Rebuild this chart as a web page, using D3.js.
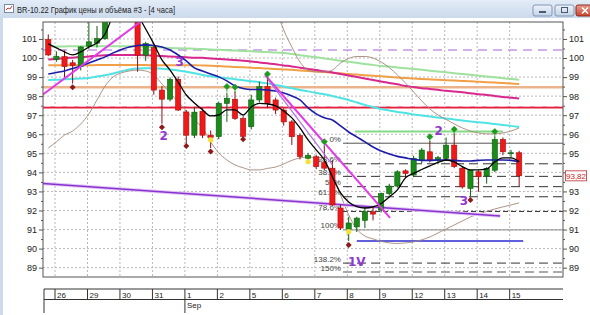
<!DOCTYPE html>
<html><head><meta charset="utf-8">
<script src="https://cdn.jsdelivr.net/npm/d3@7"></script>
<style>
html,body{margin:0;padding:0;background:#fff;}
svg{display:block;font-family:"Liberation Sans","Noto Sans",sans-serif;}
</style></head><body>
<svg id="chart" width="590" height="315"></svg>
<script>
// candles, 4-hour bars, index 0 = last bar of 25 Aug
const opens  = [100.97,99.92,100.07,99.75,99.55,100.62,100.78,101.02,102.10,102.50,102.20,101.95,100.15,100.55,98.32,97.84,98.88,97.17,95.95,97.21,95.95,95.88,97.62,97.84,96.83,96.40,97.80,98.50,97.80,97.27,96.65,95.94,94.74,94.82,94.52,94.22,92.13,91.02,91.14,91.48,91.93,92.02,92.89,93.28,94.08,93.86,94.64,95.08,94.62,94.73,95.43,94.22,93.16,94.03,93.81,94.11,95.73,94.98,95.03];
const highs  = [101.24,100.35,100.40,99.90,100.62,101.90,101.68,102.30,102.70,102.80,102.40,102.10,100.85,100.70,98.53,98.98,99.03,97.27,97.42,97.36,96.20,97.72,98.16,98.24,96.95,98.07,98.76,98.93,97.92,97.36,96.75,96.04,95.02,94.92,95.40,94.64,92.29,91.67,91.67,92.18,92.18,92.94,93.40,94.11,94.16,94.87,95.28,95.65,94.87,95.83,96.05,94.32,94.11,94.11,94.27,95.88,95.83,95.18,95.13];
const lows   = [100.10,99.80,98.99,98.66,99.35,100.48,100.55,100.95,101.95,101.95,101.92,99.28,99.85,98.08,96.55,97.72,97.22,95.50,95.80,95.80,95.28,95.74,96.65,96.75,95.76,96.25,97.67,97.37,97.06,96.45,95.44,94.68,94.67,94.17,94.12,92.24,90.98,90.40,90.87,91.08,91.48,91.89,92.79,93.20,93.71,93.75,94.47,94.52,94.42,94.62,94.22,93.15,92.76,92.98,93.41,94.01,94.90,94.78,93.25];
const closes = [100.16,100.08,99.55,99.60,100.58,100.85,101.02,102.10,102.50,102.20,102.05,100.15,100.76,98.32,97.84,98.88,97.27,95.95,97.16,95.95,95.84,97.62,97.89,96.83,95.89,97.80,98.50,97.62,97.27,96.65,95.87,94.83,94.90,94.30,94.22,92.29,91.08,91.34,91.60,91.93,91.81,92.89,93.28,94.03,93.94,94.74,95.17,94.64,94.77,95.43,94.30,93.24,94.11,93.77,94.21,95.73,95.08,95.03,93.82];

// indicator lines, one value per bar (null = off the chart)
const maBlack = [100.74,100.53,100.32,100.16,100.32,100.58,100.79,101.26,102.26,102.78,102.78,102.26,101.52,100.74,99.90,99.37,98.74,98.06,97.64,97.28,96.96,97.01,97.28,97.28,97.01,97.43,97.62,97.59,97.49,97.22,96.86,96.33,95.70,95.18,94.65,93.76,92.92,92.45,92.20,92.13,92.19,92.37,92.71,93.08,93.71,93.95,94.15,94.34,94.52,94.65,94.55,94.30,94.13,94.13,94.18,94.55,94.76,94.76,94.56];
const maBlue = [99.16,99.24,99.32,99.45,99.58,99.74,99.90,100.06,100.27,100.45,100.58,100.66,100.69,100.66,100.58,100.42,100.16,99.85,99.48,99.32,99.16,99.01,98.80,98.53,98.40,98.35,98.35,98.32,98.27,98.17,98.01,97.80,97.38,97.07,96.86,96.75,96.44,96.12,95.86,95.60,95.33,95.12,94.97,94.84,94.76,94.68,94.63,94.63,94.65,94.65,94.63,94.60,94.60,94.63,94.65,94.65,94.65,94.63,94.56];
const maCyan = [98.85,98.86,98.88,98.90,98.92,98.95,99.03,99.10,99.19,99.30,99.40,99.45,99.46,99.46,99.44,99.40,99.35,99.28,99.20,99.11,99.04,98.99,98.94,98.89,98.83,98.78,98.73,98.67,98.59,98.51,98.41,98.32,98.25,98.17,98.10,98.01,97.90,97.80,97.67,97.54,97.43,97.33,97.25,97.17,97.12,97.04,96.99,96.93,96.88,96.83,96.78,96.72,96.67,96.63,96.59,96.54,96.49,96.44,96.38];
const maGreen = [100.60,100.61,100.61,100.62,100.62,100.62,100.62,100.62,100.62,100.62,100.62,100.61,100.60,100.57,100.55,100.52,100.51,100.50,100.49,100.47,100.45,100.43,100.41,100.39,100.37,100.35,100.33,100.31,100.29,100.26,100.21,100.15,100.09,100.04,99.98,99.92,99.86,99.81,99.75,99.69,99.64,99.58,99.55,99.50,99.46,99.42,99.38,99.33,99.29,99.25,99.20,99.16,99.12,99.07,99.03,98.99,98.94,98.90,98.86];
const maOrange = [99.62,99.62,99.62,99.62,99.62,99.62,99.63,99.63,99.63,99.63,99.63,99.63,99.63,99.62,99.62,99.62,99.62,99.62,99.62,99.61,99.60,99.58,99.56,99.53,99.51,99.49,99.47,99.45,99.42,99.40,99.38,99.35,99.32,99.29,99.26,99.23,99.20,99.16,99.13,99.10,99.07,99.04,99.01,98.98,98.95,98.93,98.90,98.88,98.86,98.84,98.82,98.80,98.78,98.75,98.73,98.71,98.69,98.66,98.64];
const maMagenta = [99.92,99.95,99.99,100.02,100.05,100.08,100.12,100.15,100.16,100.16,100.16,100.16,100.15,100.13,100.11,100.08,100.06,100.04,100.02,100.01,99.98,99.95,99.92,99.89,99.86,99.82,99.77,99.72,99.67,99.61,99.56,99.49,99.43,99.37,99.30,99.24,99.16,99.08,99.00,98.93,98.85,98.77,98.69,98.62,98.53,98.48,98.42,98.38,98.33,98.28,98.24,98.20,98.15,98.10,98.06,98.01,97.96,97.92,97.87];
const bandUpper = [null,null,null,null,null,null,null,null,null,null,null,null,null,null,null,null,null,null,null,null,null,null,null,null,null,null,null,null,102.63,101.47,100.58,99.79,99.37,99.27,99.27,99.37,99.74,99.98,100.08,100.08,100.00,99.79,99.50,99.11,98.69,98.22,97.75,97.33,97.01,96.78,96.54,96.33,96.17,96.07,96.02,96.02,96.07,96.17,96.33];
const bandLower = [95.28,95.60,95.96,96.17,96.54,97.07,97.80,98.53,99.01,99.22,99.32,99.37,99.32,99.11,98.64,98.17,97.69,97.22,96.75,96.33,95.60,95.02,94.65,94.39,94.24,94.13,94.13,94.21,94.28,94.44,94.63,94.76,94.81,94.73,94.55,93.92,92.82,91.77,91.03,90.66,90.51,90.38,90.30,90.27,90.30,90.35,90.46,90.61,90.82,91.03,91.24,91.45,91.66,91.82,91.95,92.08,92.19,92.29,92.40];

// horizontal levels (price)
const levelPurple = 100.42, levelTan = 98.47, levelRed = 97.40, levelPink = 97.46;
const levelGreen = {from: 37.8, to: 56, price: 96.14};
const levelBlue = {from: 38, to: 58.5, price: 90.40};

// fibonacci grid drawn from bar 36.3
const fibStart = 36.3;
const fibLabels = ["0%","23.6%","38.2%","50%","61.8%","78.6%","100%","138.2%","150%"];
const fibPrices = [95.53,94.45,93.79,93.25,92.72,91.95,90.98,89.24,88.77];

// trend lines: [bar, price] pairs
const trendMagentaA = [[-0.65, 98.09], [11.67, 102.0]];
const trendMagentaB = [[26.7, 99.11], [42.1, 91.61]];
const trendViolet   = [[27.1, 98.85], [35.0, 94.39]];
const trendPurple   = [[-0.65, 93.42], [55.66, 91.71]];

// signal markers
const diamondBars = [3,14,17,20,24,37,52];
const diamondPrices = [98.47,96.37,95.39,95.09,95.74,90.19,92.55];
const arrowBars = [22,23,27,34,47,50,55];
const arrowPrices = [98.50,98.47,99.16,95.61,95.87,96.26,96.14];
const dotBars = [20,32,37];
const dotPrices = [95.70,94.56,90.89];
const waveLabels = ["2","3","2","3","1V"];
const waveBars = [14.2,16.2,48.1,51.2,38.0];
const wavePrices = [95.91,99.81,96.19,92.55,89.30];

// axis / time scale
const priceTicks = [89,90,91,92,93,94,95,96,97,98,99,100,101];
const dayLabels = ["26","29","30","31","1","2","5","6","7","8","9","12","13","14","15"];
const dayStart = [1,5,9,13,17,21,25,29,33,37,41,45,49,53,57];
const monthLabel = "Sep", monthDay = 4;
const lastPrice = 93.82;

const W = 590, H = 315;
const svg = d3.select("#chart");
const P = {l: 43, r: 563, t: 22, b: 277};
const x = d3.scaleLinear().domain([-0.65, 63.4]).range([P.l, P.r]);
const y = d3.scaleLinear().domain([88.51, 101.89]).range([P.b, P.t]);
const bx = d => x(d - 0.17);   // day boundary

svg.append("rect").attr("width", W).attr("height", H).attr("fill", "#fff");

// ---- window title bar
const defs = svg.append("defs");
const tg = defs.append("linearGradient").attr("id", "tbar").attr("x1", 0).attr("y1", 0).attr("x2", 0).attr("y2", 1);
tg.append("stop").attr("offset", 0).attr("stop-color", "#e3ecf7");
tg.append("stop").attr("offset", 1).attr("stop-color", "#cbdaec");
const bg = defs.append("linearGradient").attr("id", "btn").attr("x1", 0).attr("y1", 0).attr("x2", 0).attr("y2", 1);
bg.append("stop").attr("offset", 0).attr("stop-color", "#eef3fa");
bg.append("stop").attr("offset", 1).attr("stop-color", "#c2d3e8");
const cg = defs.append("linearGradient").attr("id", "cbtn").attr("x1", 0).attr("y1", 0).attr("x2", 0).attr("y2", 1);
cg.append("stop").attr("offset", 0).attr("stop-color", "#e8a093");
cg.append("stop").attr("offset", 1).attr("stop-color", "#c9432f");

svg.append("rect").attr("width", W).attr("height", 18).attr("fill", "url(#tbar)");
svg.append("rect").attr("x", 0).attr("y", 18).attr("width", 3).attr("height", H - 18).attr("fill", "#cbdaec");
svg.append("rect").attr("x", 4.5).attr("y", 4.5).attr("width", 9).attr("height", 8).attr("fill", "#fff").attr("stroke", "#7a8aa0");
svg.append("path").attr("d", "M6,10 L8,8 L10,9 L12,6").attr("fill", "none").attr("stroke", "#d33").attr("stroke-width", 1);
svg.append("text").attr("x", 17).attr("y", 12.5).attr("font-size", 9.5).attr("fill", "#1b1b1b")
  .attr("textLength", 158).attr("lengthAdjust", "spacingAndGlyphs")
  .text("BR-10.22 График цены и объёма #3 - [4 часа]");
svg.append("rect").attr("x", 533).attr("y", 5).attr("width", 19).attr("height", 11).attr("rx", 2)
  .attr("fill", "url(#btn)").attr("stroke", "#8197b4");
svg.append("rect").attr("x", 539).attr("y", 11).attr("width", 7).attr("height", 2).attr("fill", "#4a5a70");
svg.append("rect").attr("x", 555).attr("y", 5).attr("width", 19).attr("height", 11).attr("rx", 2)
  .attr("fill", "url(#btn)").attr("stroke", "#8197b4");
svg.append("rect").attr("x", 561.5).attr("y", 7.5).attr("width", 6).attr("height", 5).attr("fill", "none").attr("stroke", "#4a5a70");
svg.append("rect").attr("x", 576).attr("y", 5).attr("width", 20).attr("height", 11).attr("rx", 2)
  .attr("fill", "url(#cbtn)").attr("stroke", "#8a2a1c");
svg.append("path").attr("d", "M582,7.5 L588,13.5 M588,7.5 L582,13.5").attr("stroke", "#fff").attr("stroke-width", 1.6);

// ---- plot area
defs.append("clipPath").attr("id", "clip").append("rect")
  .attr("x", P.l).attr("y", P.t).attr("width", P.r - P.l).attr("height", P.b - P.t);
const g = svg.append("g").attr("clip-path", "url(#clip)");

// grid
g.selectAll(".hg").data(priceTicks).enter().append("line")
  .attr("x1", P.l).attr("x2", P.r).attr("y1", d => y(d)).attr("y2", d => y(d))
  .attr("stroke", "#b8b8b8").attr("stroke-dasharray", "2,2");
g.selectAll(".vg").data(dayStart).enter().append("line")
  .attr("x1", d => bx(d)).attr("x2", d => bx(d)).attr("y1", P.t).attr("y2", P.b)
  .attr("stroke", "#b8b8b8").attr("stroke-dasharray", "2,2");

const hline = (price, color, w, dash, from, to) => g.append("line")
  .attr("x1", from == null ? P.l : x(from)).attr("x2", to == null ? P.r : x(to))
  .attr("y1", y(price)).attr("y2", y(price))
  .attr("stroke", color).attr("stroke-width", w).attr("stroke-dasharray", dash || null);

hline(levelTan, "#eab38a", 2.5);
hline(levelPurple, "#c596e6", 1.5, "9,6");
hline(levelRed, "#e3203c", 2);
hline(levelPink, "#f6b8d0", 1, "7,5");

// fibonacci levels
const fibStyle = [
  {c: "#555", d: null, w: 1}, {c: "#333", d: "9,5", w: 1}, {c: "#333", d: "9,5", w: 1},
  {c: "#333", d: "9,5", w: 1}, {c: "#333", d: "9,5", w: 1}, {c: "#333", d: "5,3", w: 1},
  {c: "#8a8a8a", d: null, w: 1}, {c: "#333", d: "9,5", w: 1}, {c: "#aaa", d: "9,5", w: 2}
];
fibPrices.forEach((p, i) => hline(p, fibStyle[i].c, fibStyle[i].w, fibStyle[i].d, fibStart, null));
g.selectAll(".fibl").data(fibLabels).enter().append("text")
  .attr("x", x(fibStart) - 2).attr("y", (d, i) => y(fibPrices[i]) - 1.5)
  .attr("text-anchor", "end").attr("font-size", 8).attr("fill", "#444").text(d => d);

hline(levelGreen.price, "#86dc86", 2, null, levelGreen.from, levelGreen.to);
hline(levelBlue.price, "#2b2bd0", 1.5, null, levelBlue.from, levelBlue.to);

// long averages & bands
const line = d3.line().defined(d => d != null).x((d, i) => x(i)).y(d => y(d)).curve(d3.curveMonotoneX);
const drawSeries = (arr, color, w) => g.append("path").attr("d", line(arr))
  .attr("fill", "none").attr("stroke", color).attr("stroke-width", w);
drawSeries(maGreen, "#9ee29e", 2);
drawSeries(maOrange, "#f2a047", 2);
drawSeries(maMagenta, "#d8288e", 2);
drawSeries(maCyan, "#4fe3e3", 2);
drawSeries(bandUpper, "#a48878", 0.9);
drawSeries(bandLower, "#a48878", 0.9);

// trend lines
const seg = d3.line().x(d => x(d[0])).y(d => y(d[1]));
g.append("path").attr("d", seg(trendPurple)).attr("stroke", "#e2c8f6").attr("stroke-width", 3.5).attr("fill", "none");
g.append("path").attr("d", seg(trendPurple)).attr("stroke", "#8a33cf").attr("stroke-width", 1.5).attr("fill", "none");

// candles
const bars = d3.range(opens.length);
const cw = 5.2;
const cg2 = g.append("g");
cg2.selectAll(".wick").data(bars).enter().append("line")
  .attr("x1", i => x(i)).attr("x2", i => x(i))
  .attr("y1", i => y(highs[i])).attr("y2", i => y(lows[i]))
  .attr("stroke", i => closes[i] >= opens[i] ? "#0d5e0d" : "#8a1010").attr("stroke-width", 1);
cg2.selectAll(".body").data(bars).enter().append("rect")
  .attr("x", i => x(i) - cw / 2).attr("width", cw)
  .attr("y", i => y(Math.max(opens[i], closes[i])))
  .attr("height", i => Math.max(1, Math.abs(y(opens[i]) - y(closes[i]))))
  .attr("fill", i => closes[i] >= opens[i] ? "#1b8a1b" : "#f01818")
  .attr("stroke", i => closes[i] >= opens[i] ? "#0d5e0d" : "#a81010").attr("stroke-width", 0.6);

drawSeries(maBlue, "#1c1ca8", 1.6);
drawSeries(maBlack, "#000", 1.3);

g.append("path").attr("d", seg(trendMagentaA)).attr("stroke", "#e23be6").attr("stroke-width", 2).attr("fill", "none");
g.append("path").attr("d", seg(trendMagentaB)).attr("stroke", "#e23be6").attr("stroke-width", 2).attr("fill", "none");
g.append("path").attr("d", seg(trendViolet)).attr("stroke", "#b070e0").attr("stroke-width", 1.2).attr("fill", "none");

// markers
const dia = (cx, cy, r) => `M${cx},${cy - r}L${cx + r},${cy}L${cx},${cy + r}L${cx - r},${cy}Z`;
g.selectAll(".dm").data(diamondBars).enter().append("path")
  .attr("d", (d, i) => dia(x(d), y(diamondPrices[i]), 3)).attr("fill", "#8c1a1a");
g.selectAll(".am").data(arrowBars).enter().append("path")
  .attr("d", (d, i) => dia(x(d), y(arrowPrices[i]), 3) + `M${x(d)},${y(arrowPrices[i]) + 3}V${y(arrowPrices[i]) + 6}`)
  .attr("fill", "#1e9a1e").attr("stroke", "#1e9a1e").attr("stroke-width", 0.8);
g.selectAll(".ym").data(dotBars).enter().append("circle")
  .attr("cx", d => x(d)).attr("cy", (d, i) => y(dotPrices[i])).attr("r", 2.6).attr("fill", "#f2e23a");
g.selectAll(".wl").data(waveLabels).enter().append("text")
  .attr("x", (d, i) => x(waveBars[i])).attr("y", (d, i) => y(wavePrices[i]) + 4.5)
  .attr("text-anchor", "middle").attr("font-size", 12).attr("font-weight", "bold")
  .attr("font-family", "'DejaVu Sans',sans-serif").attr("fill", "#9236d0").text(d => d);

// frame and price axes
svg.append("rect").attr("x", P.l).attr("y", P.t).attr("width", P.r - P.l).attr("height", P.b - P.t)
  .attr("fill", "none").attr("stroke", "#555");
const minor = priceTicks.slice(0, -1).map(d => d + 0.5).concat([88.5, 101.5]);
[["L", P.l, d3.axisLeft], ["R", P.r, d3.axisRight]].forEach(([k, px, ax]) => {
  const a = svg.append("g").attr("transform", `translate(${px},0)`)
    .call(ax(y).tickValues(priceTicks).tickSize(4).tickPadding(2).tickFormat(d3.format("d")));
  a.select(".domain").remove();
  a.selectAll("text").attr("font-size", 9).attr("fill", "#222").attr("font-family", "'Liberation Sans',sans-serif");
  a.selectAll("line").attr("stroke", "#555");
  // the last-price tag hides the right-hand label it covers
  if (k === "R") a.selectAll(".tick").filter(d => Math.abs(y(d) - y(lastPrice)) < 8).select("text").remove();
  const m = svg.append("g").attr("transform", `translate(${px},0)`)
    .call(ax(y).tickValues(minor.filter(v => v > 88.51 && v < 101.89)).tickSize(2).tickFormat(""));
  m.select(".domain").remove();
  m.selectAll("line").attr("stroke", "#555");
});

// last price tag
svg.append("rect").attr("x", 565.5).attr("y", y(lastPrice) - 5).attr("width", 21).attr("height", 10)
  .attr("fill", "#fff").attr("stroke", "#c55");
svg.append("text").attr("x", 576).attr("y", y(lastPrice) + 3).attr("text-anchor", "middle")
  .attr("font-size", 8).attr("fill", "#d02020").text(lastPrice.toFixed(2).replace(".", ","));

// ---- date band
const dt = 289, dm = 299.5, db = 313;
svg.append("line").attr("x1", 44).attr("x2", P.r).attr("y1", dt).attr("y2", dt).attr("stroke", "#333");
svg.append("line").attr("x1", 44).attr("x2", P.r).attr("y1", dm).attr("y2", dm).attr("stroke", "#333");
svg.append("line").attr("x1", 44).attr("x2", 44).attr("y1", dt).attr("y2", db).attr("stroke", "#333");
svg.selectAll(".dd").data(dayStart).enter().append("line")
  .attr("x1", d => bx(d)).attr("x2", d => bx(d)).attr("y1", dt).attr("y2", (d, i) => i === monthDay ? db : dm)
  .attr("stroke", "#333");
svg.selectAll(".dl").data(dayLabels).enter().append("text")
  .attr("x", (d, i) => bx(dayStart[i]) + 2).attr("y", 297.5)
  .attr("font-size", 8).attr("fill", "#222").text(d => d);
svg.append("text").attr("x", bx(dayStart[monthDay]) + 2).attr("y", 307.5)
  .attr("font-size", 8).attr("fill", "#222").text(monthLabel);
</script>
</body></html>
